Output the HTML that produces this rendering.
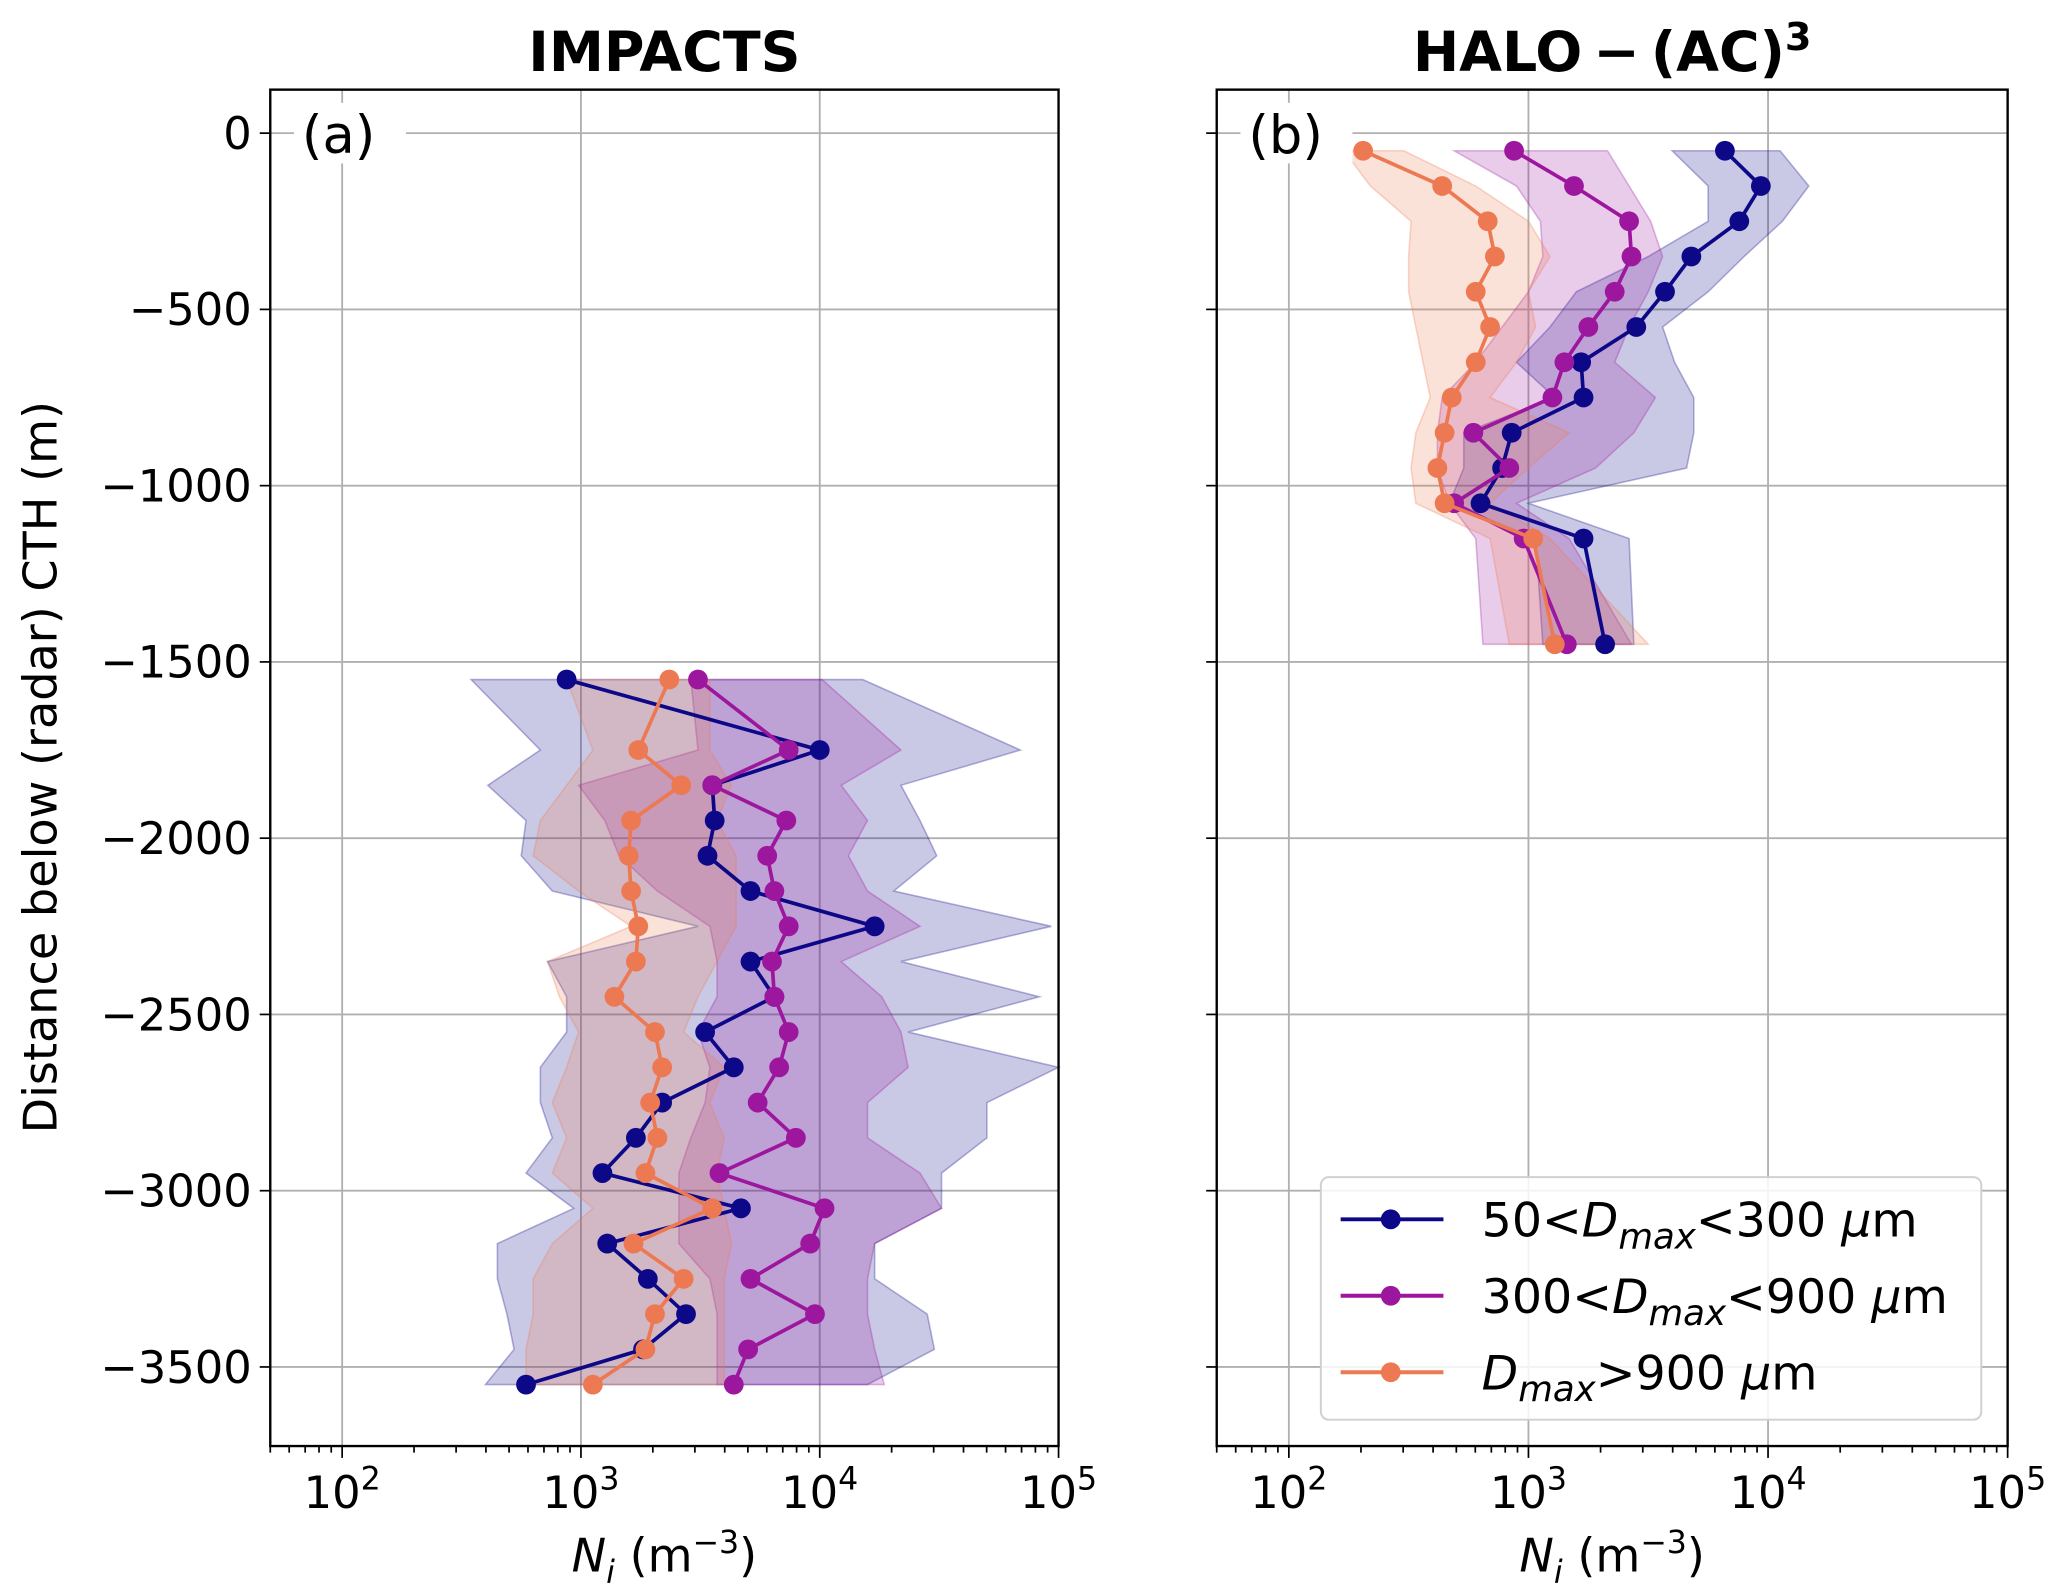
<!DOCTYPE html>
<html><head><meta charset="utf-8"><style>
html,body{margin:0;padding:0;background:#fff;}
svg{display:block;font-family:"DejaVu Sans","Liberation Sans",sans-serif;}
</style></head><body>
<svg id="fig" width="2067" height="1595" viewBox="0 0 1568 1210" xmlns="http://www.w3.org/2000/svg"></svg>
<script>
// ---- Panel (a) IMPACTS data (log10 of Ni in m^-3) ----
const levelsA = [-1550,-1750,-1850,-1950,-2050,-2150,-2250,-2350,-2450,-2550,-2650,-2750,-2850,-2950,-3050,-3150,-3250,-3350,-3450,-3550];
const smallMeanA = [2.94,4.00,3.55,3.56,3.53,3.71,4.23,3.71,3.81,3.52,3.64,3.34,3.23,3.09,3.67,3.11,3.28,3.44,3.26,2.77];
const smallLoA   = [2.54,2.83,2.61,2.77,2.75,2.88,3.49,2.86,2.94,2.94,2.83,2.83,2.88,2.77,2.97,2.65,2.65,2.69,2.72,2.60];
const smallHiA   = [4.18,4.84,4.34,4.42,4.49,4.31,4.97,4.34,4.92,4.37,5.00,4.70,4.70,4.51,4.51,4.23,4.23,4.45,4.48,4.20];
const midMeanA = [3.49,3.87,3.55,3.86,3.78,3.81,3.87,3.80,3.81,3.87,3.83,3.74,3.90,3.58,4.02,3.96,3.71,3.98,3.70,3.64];
const midLoA   = [3.46,3.49,2.99,3.10,3.16,3.32,3.54,3.57,3.57,3.49,3.54,3.52,3.46,3.41,3.41,3.41,3.54,3.57,3.57,3.57];
const midHiA   = [4.01,4.34,4.09,4.20,4.12,4.20,4.42,4.09,4.26,4.34,4.37,4.20,4.20,4.42,4.51,4.23,4.20,4.20,4.23,4.27];
const bigMeanA = [3.37,3.24,3.42,3.21,3.20,3.21,3.24,3.23,3.14,3.31,3.34,3.29,3.32,3.27,3.55,3.22,3.43,3.31,3.27,3.05];
const bigLoA   = [2.94,3.05,2.94,2.83,2.80,2.99,3.21,2.86,2.91,2.99,2.94,2.88,2.94,2.88,3.05,2.88,2.80,2.80,2.77,2.77];
const bigHiA   = [3.54,3.54,3.63,3.57,3.65,3.65,3.65,3.57,3.49,3.43,3.60,3.54,3.60,3.57,3.60,3.63,3.60,3.60,3.60,3.60];
// ---- Panel (b) HALO-(AC)3 data ----
const levelsB = [-50,-150,-250,-350,-450,-550,-650,-750,-850,-950,-1050,-1150,-1450];
const smallMeanB = [3.82,3.97,3.88,3.68,3.57,3.45,3.22,3.23,2.93,2.89,2.80,3.23,3.32];
const smallLoB   = [3.60,3.75,3.75,3.50,3.20,3.09,2.95,3.11,2.73,2.73,2.67,3.03,3.06];
const smallHiB   = [4.05,4.17,4.06,3.90,3.75,3.56,3.61,3.69,3.69,3.66,3.00,3.42,3.44];
const midMeanB = [2.94,3.19,3.42,3.43,3.36,3.25,3.15,3.10,2.77,2.92,2.69,2.98,3.16];
const midLoB   = [2.69,2.95,3.05,3.06,3.00,2.89,2.78,2.64,2.62,2.62,2.67,2.78,2.81];
const midHiB   = [3.33,3.42,3.51,3.56,3.50,3.42,3.36,3.53,3.44,3.28,2.95,3.17,3.43];
const bigMeanB = [2.31,2.64,2.83,2.86,2.78,2.84,2.78,2.68,2.65,2.62,2.65,3.02,3.11];
const bigLoB   = [2.23,2.34,2.51,2.50,2.50,2.53,2.56,2.59,2.53,2.51,2.53,2.84,2.92];
const bigHiB   = [2.48,2.78,3.00,3.09,3.00,3.03,2.95,2.84,3.17,3.00,2.84,3.09,3.50];
const yTicks = [0,-500,-1000,-1500,-2000,-2500,-3000,-3500];
const xDecades = [2,3,4,5];
const colors = {small:'#0d0887', mid:'#9c179e', big:'#ed7953'};

const NS='http://www.w3.org/2000/svg';
const svg=document.getElementById('fig');
function mk(tag,attrs,parent){const e=document.createElementNS(NS,tag);for(const k in attrs)e.setAttribute(k,attrs[k]);(parent||svg).appendChild(e);return e;}

const yTop=68,yBot=1097;
function yScale(v){return 101+(-v)*(1037-101)/3500;}
const logMin=Math.log10(50);
function makeX(x0){const dec=(x0==205?598:600)/(5-logMin);return l=>x0+(l-logMin)*dec;}

function panel(x0,x1,title,tag,showY,data,name){
  const g=mk('g',{});
  
  
  const xs=makeX(x0);
  xDecades.forEach(d=>{const gl=mk('line',{x1:xs(d),x2:xs(d),y1:yTop,y2:yBot,stroke:'#b0b0b0','stroke-width':1.4},g);
    });
  yTicks.forEach(t=>{const gl=mk('line',{x1:x0,x2:x1,y1:yScale(t),y2:yScale(t),stroke:'#b0b0b0','stroke-width':1.4},g);
    });
  data.forEach(s=>{
    let pts=[];
    s.lev.forEach((v,i)=>pts.push(xs(s.lo[i])+','+yScale(v)));
    for(let i=s.lev.length-1;i>=0;i--)pts.push(xs(s.hi[i])+','+yScale(s.lev[i]));
    const p=mk('polygon',{points:pts.join(' '),fill:s.c,'fill-opacity':0.22,stroke:s.c,'stroke-opacity':0.3,'stroke-width':1.2},g);
    
  });
  data.forEach(s=>{
    const pts=s.lev.map((v,i)=>xs(s.m[i])+','+yScale(v)).join(' ');
    const l=mk('polyline',{points:pts,fill:'none',stroke:s.c,'stroke-width':2.8},g);
    
    s.lev.forEach((v,i)=>{const c=mk('circle',{cx:xs(s.m[i]),cy:yScale(v),r:7.5,fill:s.c},g);
      });
  });
  const fr=mk('rect',{x:x0,y:yTop,width:x1-x0,height:yBot-yTop,fill:'none',stroke:'#000','stroke-width':1.8},g);
  
  for(let d=1;d<5;d++){for(let k=1;k<10;k++){const l=d+Math.log10(k);const x=xs(l);if(x<x0-0.5||x>x1+0.5)continue;
    mk('line',{x1:x,x2:x,y1:yBot,y2:yBot+(k==1?9:5),stroke:'#000','stroke-width':1.3},g);}}
  mk('line',{x1:x1,x2:x1,y1:yBot,y2:yBot+9,stroke:'#000','stroke-width':1.3},g);
  xDecades.forEach(d=>{const t=mk('text',{x:xs(d),y:1144,'text-anchor':'middle','font-size':34},g);
    t.innerHTML='10<tspan dy="-14" font-size="24">'+d+'</tspan>';
    });
  yTicks.forEach(v=>{mk('line',{x1:x0-8,x2:x0,y1:yScale(v),y2:yScale(v),stroke:'#000','stroke-width':1.3},g);
    if(showY){const t=mk('text',{x:x0-14,y:yScale(v)+12,'text-anchor':'end','font-size':34},g);
      t.textContent=(v<0?'\u2212'+(-v):v);}});
  const xl=mk('text',{x:(x0+x1)/2,y:1192,'text-anchor':'middle','font-size':35},g);
  xl.innerHTML='<tspan font-style="italic">N</tspan><tspan font-style="italic" font-size="24" dy="9">i</tspan><tspan dy="-9"> (m</tspan><tspan dy="-14" font-size="24">\u22123</tspan><tspan dy="14">)</tspan>';
  
  const tt=mk('text',{x:(x0+x1)/2,y:54,'text-anchor':'middle','font-size':42,'font-weight':'bold'},g);
  tt.innerHTML=title;
  mk('rect',{x:x0+18,y:78,width:85,height:46,fill:'#fff'},g);
  const pt=mk('text',{x:x0+24,y:116,'font-size':40},g);pt.textContent=tag;
  
}
panel(205,803,'IMPACTS','(a)',true,[
 {n:'small',c:colors.small,lev:levelsA,m:smallMeanA,lo:smallLoA,hi:smallHiA},
 {n:'mid',c:colors.mid,lev:levelsA,m:midMeanA,lo:midLoA,hi:midHiA},
 {n:'big',c:colors.big,lev:levelsA,m:bigMeanA,lo:bigLoA,hi:bigHiA}],'panel-impacts');
panel(923,1523,'HALO\u2009\u2212\u2009(AC)<tspan dy="-16" font-size="29">3</tspan>','(b)',false,[
 {n:'small',c:colors.small,lev:levelsB,m:smallMeanB,lo:smallLoB,hi:smallHiB},
 {n:'mid',c:colors.mid,lev:levelsB,m:midMeanB,lo:midLoB,hi:midHiB},
 {n:'big',c:colors.big,lev:levelsB,m:bigMeanB,lo:bigLoB,hi:bigHiB}],'panel-halo');

const yt=mk('text',{x:0,y:0,'text-anchor':'middle','font-size':35,transform:'translate(43,582) rotate(-90)'});
yt.textContent='Distance below (radar) CTH (m)';



const lg=mk('g',{});


mk('rect',{x:1002,y:893,width:501,height:184,rx:6,fill:'#fff','fill-opacity':0.85,stroke:'#d0d0d0','stroke-width':1.5},lg);
const legItems=[['small','50&lt;<tspan font-style="italic">D</tspan><tspan font-style="italic" font-size="27" dy="9">max</tspan><tspan dy="-9">&lt;300 </tspan><tspan font-style="italic">μ</tspan>m'],
 ['mid','300&lt;<tspan font-style="italic">D</tspan><tspan font-style="italic" font-size="27" dy="9">max</tspan><tspan dy="-9">&lt;900 </tspan><tspan font-style="italic">μ</tspan>m'],
 ['big','<tspan font-style="italic">D</tspan><tspan font-style="italic" font-size="27" dy="9">max</tspan><tspan dy="-9">&gt;900 </tspan><tspan font-style="italic">μ</tspan>m']];
legItems.forEach((it,i)=>{const y=925+i*58;
  const e=mk('g',{},lg);
  
  
  mk('line',{x1:1017,x2:1095,y1:y,y2:y,stroke:colors[it[0]],'stroke-width':3},e);
  mk('circle',{cx:1055,cy:y,r:7.5,fill:colors[it[0]]},e);
  const t=mk('text',{x:1124,y:y+13,'font-size':36},e);t.innerHTML=it[1];});
</script>
</body></html>
